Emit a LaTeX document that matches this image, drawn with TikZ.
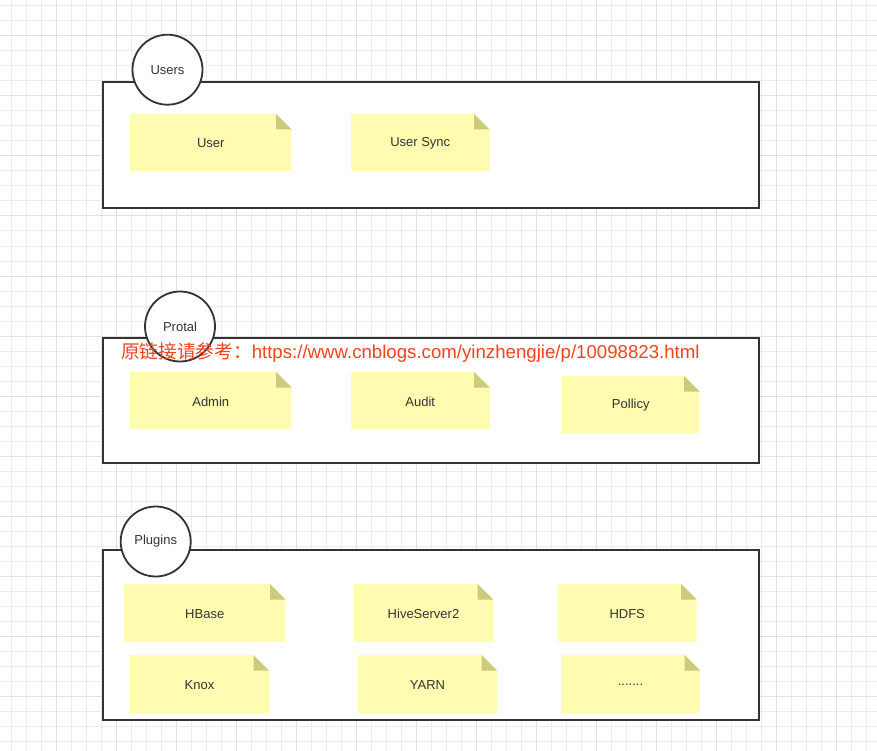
\documentclass[tikz,border=0pt]{standalone}
\usepackage{fontspec}
\setmainfont{Liberation Sans}
\newfontfamily\cjk{Noto Sans CJK SC}
\definecolor{minorgrid}{HTML}{ECECEC}
\definecolor{majorgrid}{HTML}{E0E0E0}
\definecolor{stroke}{HTML}{333333}
\definecolor{notefillc}{HTML}{FFFCB1}
\definecolor{foldfillc}{HTML}{CCCA7C}
\definecolor{redtext}{HTML}{F2431F}
\tikzset{
  groupbox/.style={draw=stroke, line width=2pt, fill=white},
  titlecircle/.style={circle, draw=stroke, line width=1.8pt, fill=white, minimum size=70pt, inner sep=0pt, font=\fontsize{13}{15}\selectfont, text=stroke},
  lbl/.style={inner sep=0pt, font=\fontsize{13}{15}\selectfont, text=stroke},
  notefill/.style={fill=notefillc},
  foldfill/.style={fill=foldfillc},
}
\newcommand\stickynote[6]{%
  \fill[notefill] (#2,#3) -- ({#4-15.5},#3) -- (#4,{#3+15.5}) -- (#4,#5) -- (#2,#5) -- cycle;
  \fill[foldfill] ({#4-15.5},#3) -- ({#4-15.5},{#3+15.5}) -- (#4,{#3+15.5}) -- cycle;
  \node[lbl] (#1) at ({(#2+#4)/2},{(#3+#5)/2+1}) {#6};
}
\begin{document}
\begin{tikzpicture}[x=1pt,y=-1pt]
\useasboundingbox (0,0) rectangle (877,751);
\fill[white] (0,0) rectangle (877,751);
% grid
\foreach \gx in {11.7,26.7,...,877} {\draw[minorgrid, line width=1pt] (\gx,0) -- (\gx,751);}
\foreach \gy in {6,21,...,751} {\draw[minorgrid, line width=1pt] (0,\gy) -- (877,\gy);}
\foreach \gx in {56.7,116.7,...,877} {\draw[majorgrid, line width=1pt] (\gx,0) -- (\gx,751);}
\foreach \gy in {36,96,...,751} {\draw[majorgrid, line width=1pt] (0,\gy) -- (877,\gy);}
% group boxes
\draw[groupbox] (103,82) rectangle (759,208);
\draw[groupbox] (103,338) rectangle (759,463);
\draw[groupbox] (103,550) rectangle (759,720);
% title circles
\node[titlecircle] (users) at (167.5,69.7) {\raisebox{-1pt}{Users}};
\node[titlecircle] (protal) at (180,326.5) {\raisebox{-1pt}{Protal}};
\node[titlecircle] (plugins) at (155.7,541.5) {\raisebox{-1pt}{Plugins}};
% notes
\stickynote{user}{130}{114}{291.5}{171}{User}
\stickynote{usersync}{351}{114}{489.5}{171}{User Sync}
\stickynote{admin}{130}{372}{291.5}{429}{Admin}
\stickynote{audit}{351}{372}{489.5}{429}{Audit}
\stickynote{pollicy}{562}{376}{699.5}{433}{Pollicy}
\stickynote{hbase}{124}{584}{285.5}{641.5}{HBase}
\stickynote{hive}{354}{584}{493}{641.5}{HiveServer2}
\stickynote{hdfs}{557.7}{584}{696.7}{641.5}{HDFS}
\stickynote{knox}{130}{655}{269}{713}{Knox}
\stickynote{yarn}{358}{655}{497}{713}{YARN}
\stickynote{more}{561}{655}{700}{713}{.......}
% watermark text
\node[inner sep=0pt, anchor=west, text=redtext, font=\fontsize{18.65}{21}\selectfont] (link) at (121,353) {{\cjk 原链接请参考：}https://www.cnblogs.com/yinzhengjie/p/10098823.html};
\end{tikzpicture}
\end{document}
